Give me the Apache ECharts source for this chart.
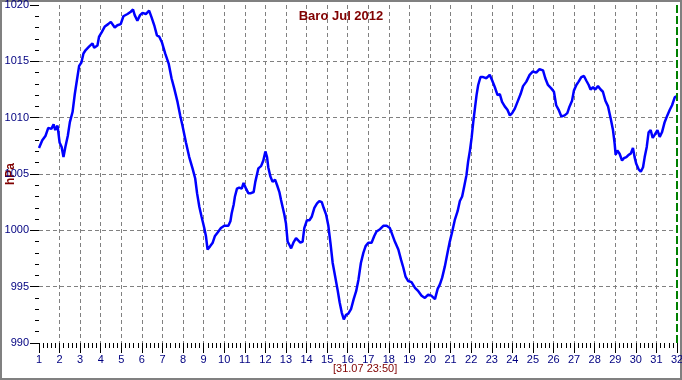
<!DOCTYPE html>
<html>
<head>
<meta charset="utf-8">
<script src="https://cdn.jsdelivr.net/npm/echarts@6/dist/echarts.min.js"></script>
<style>
html,body{margin:0;padding:0;background:#fff;}
#chart{width:682px;height:380px;}
</style>
</head>
<body>
<div id="chart"></div>
<script>
// time in days of July 2012 (1 = 1 Jul 00:00)
var days = [
1.00,1.16,1.32,1.45,1.60,1.71,1.79,1.90,2.00,2.10,2.19,2.28,2.40,2.50,2.63,2.74,2.84,2.95,
3.06,3.16,3.27,3.43,3.60,3.68,3.84,3.92,4.05,4.20,4.36,4.49,4.68,4.81,4.97,
5.10,5.30,5.46,5.57,5.65,5.78,5.91,6.03,6.19,6.35,6.47,6.60,6.73,6.84,6.97,
7.13,7.30,7.44,7.57,7.73,7.86,7.97,8.14,8.30,8.46,8.59,8.68,8.79,8.90,
9.03,9.11,9.19,9.32,9.44,9.55,9.68,9.84,10.00,10.20,10.30,10.36,10.46,10.52,10.62,10.73,10.85,10.94,
11.06,11.17,11.30,11.43,11.51,11.66,11.79,11.90,12.00,12.08,12.14,12.24,12.35,12.47,12.57,12.68,12.76,12.84,12.92,
13.00,13.08,13.17,13.25,13.36,13.49,13.57,13.70,13.81,13.89,14.02,14.14,14.25,14.38,14.51,14.62,14.74,14.83,14.95,
15.06,15.16,15.27,15.39,15.52,15.61,15.71,15.81,15.92,16.03,16.16,16.29,16.41,16.52,16.64,16.76,16.87,
17.00,17.16,17.29,17.40,17.57,17.73,17.89,18.05,18.17,18.29,18.46,18.59,18.70,18.81,18.94,
19.10,19.27,19.43,19.59,19.75,19.91,20.06,20.24,20.37,20.48,20.59,20.72,20.85,20.96,
21.08,21.20,21.34,21.45,21.56,21.66,21.77,21.85,21.94,22.02,22.10,22.18,22.26,22.34,22.45,22.58,22.74,22.90,
23.02,23.15,23.28,23.39,23.50,23.63,23.76,23.88,23.99,24.12,24.25,24.40,24.52,24.68,24.84,
25.00,25.16,25.32,25.49,25.60,25.73,25.89,26.02,26.13,26.25,26.38,26.54,26.67,26.78,26.90,26.99,
27.11,27.22,27.35,27.48,27.59,27.71,27.80,27.92,28.03,28.16,28.29,28.40,28.52,28.65,28.78,28.89,28.97,
29.02,29.10,29.21,29.33,29.42,29.54,29.65,29.75,29.86,29.94,30.02,30.14,30.24,30.35,30.43,30.53,30.62,30.72,30.82,30.92,
31.05,31.16,31.27,31.40,31.53,31.65,31.76,31.89,31.97
];
// pressure, hPa
var hpa = [
1007.3,1008.0,1008.4,1009.1,1009.0,1009.4,1008.9,1009.3,1007.8,1007.4,1006.5,1007.4,1008.4,1009.6,1010.5,1012.1,1013.3,1014.6,
1014.9,1015.7,1016.0,1016.3,1016.6,1016.2,1016.4,1017.2,1017.6,1018.1,1018.3,1018.5,1018.0,1018.2,1018.3,
1019.0,1019.2,1019.4,1019.6,1019.1,1018.6,1019.1,1019.3,1019.2,1019.5,1018.9,1018.2,1017.3,1017.2,1016.7,
1015.7,1014.8,1013.5,1012.6,1011.4,1010.2,1009.3,1007.8,1006.5,1005.5,1004.6,1003.3,1002.1,1001.2,
1000.2,999.5,998.3,998.6,998.9,999.5,999.8,1000.2,1000.4,1000.4,1000.8,1001.5,1002.3,1003.0,1003.7,1003.8,1003.7,1004.2,
1003.7,1003.3,1003.3,1003.4,1004.3,1005.5,1005.7,1006.2,1007.0,1006.5,1005.6,1004.8,1004.3,1004.5,1004.0,1003.4,1002.7,1002.6,1001.4,
1000.6,999.0,998.7,998.4,998.9,999.3,999.4,998.9,999.0,1000.2,1000.9,1000.9,1001.2,1002.0,1002.4,1002.6,1002.5,1002.0,1001.4,
1000.4,998.9,997.1,995.9,994.6,993.6,992.7,992.1,992.5,992.6,993.0,993.9,994.6,995.6,997.1,998.0,998.6,
998.9,998.9,999.5,999.9,1000.1,1000.4,1000.4,1000.2,999.6,999.0,998.3,997.4,996.7,995.9,995.5,
995.4,994.9,994.6,994.2,994.0,994.3,994.2,993.9,994.8,995.2,995.8,996.8,998.0,999.0,
999.9,1000.9,1001.7,1002.6,1003.0,1003.9,1004.9,1006.1,1007.1,1008.2,1009.6,1010.8,1012.0,1012.9,1013.6,1013.6,1013.5,1013.8,
1013.3,1012.7,1012.0,1012.1,1011.4,1011.0,1010.7,1010.2,1010.4,1010.8,1011.4,1012.1,1012.8,1013.2,1013.8,
1014.1,1014.0,1014.3,1014.2,1013.5,1012.9,1012.6,1012.3,1011.1,1010.7,1010.1,1010.2,1010.4,1011.0,1011.5,1012.4,
1012.9,1013.2,1013.6,1013.7,1013.3,1012.9,1012.5,1012.7,1012.5,1012.8,1012.5,1012.3,1011.5,1011.0,1009.9,1008.9,1007.7,
1006.7,1007.1,1006.8,1006.2,1006.4,1006.5,1006.7,1006.8,1007.3,1006.5,1005.9,1005.4,1005.2,1005.6,1006.5,1007.4,1008.7,1008.9,1008.2,1008.5,
1008.9,1008.3,1008.7,1009.6,1010.2,1010.7,1011.1,1011.8,1011.9
];
var titleText = 'Baro Jul 2012';
var yName = 'hPa';
var stampText = '[31.07 23:50]';
var xMin = 1, xMax = 32, xStep = 1;
var yMin = 990, yMax = 1020, yStep = 5;
var nowMark = 32;

var seriesData = days.map(function (d, i) { return [d, hpa[i]]; });

var labelFont = 'Liberation Sans Narrow, Liberation Sans, Arial, sans-serif';
var chart = echarts.init(document.getElementById('chart'), null, {renderer: 'canvas'});
chart.setOption({
  animation: false,
  backgroundColor: '#ffffff',
  title: {
    text: titleText,
    left: 'center',
    top: 5,
    textStyle: {color: '#800000', fontSize: 13, fontWeight: 'bold', fontFamily: 'Liberation Sans, Arial, sans-serif'}
  },
  grid: {left: 39, right: 5, top: 5, bottom: 37, containLabel: false, outerBoundsMode: 'none'},
  xAxis: {
    type: 'value', min: xMin, max: xMax, interval: xStep,
    axisLine: {show: false},
    axisTick: {show: true, length: 10, lineStyle: {color: '#000000', width: 1}},
    minorTick: {show: true, splitNumber: 5, length: 5, lineStyle: {color: '#000000', width: 1}},
    splitLine: {show: true, showMinLine: false, showMaxLine: false, lineStyle: {color: '#808080', type: [4, 3], width: 1}},
    axisLabel: {color: '#000080', fontSize: 11, margin: 11, showMinLabel: true, showMaxLabel: true, fontFamily: labelFont,
      formatter: function (v) { return String(v); }}
  },
  yAxis: {
    type: 'value', min: yMin, max: yMax, interval: yStep,
    axisLine: {show: false},
    axisTick: {show: true, length: 9, lineStyle: {color: '#000000', width: 1}},
    minorTick: {show: true, splitNumber: 5, length: 4, lineStyle: {color: '#000000', width: 1}},
    splitLine: {show: true, showMinLine: false, showMaxLine: false, lineStyle: {color: '#808080', type: [4, 3], width: 1}},
    axisLabel: {color: '#000080', fontSize: 11, margin: 10, showMinLabel: true, showMaxLabel: true, fontFamily: labelFont,
      formatter: function (v) { return String(v); }}
  },
  series: [{
    type: 'line',
    data: seriesData,
    showSymbol: false,
    symbol: 'none',
    smooth: false,
    lineStyle: {color: '#0000ff', width: 2.5},
    markLine: {
      silent: true,
      symbol: ['none', 'none'],
      label: {show: false},
      lineStyle: {color: '#008000', type: [8, 3], width: 2},
      data: [{xAxis: nowMark}]
    }
  }],
  graphic: [
    {
      type: 'text', x: 11, y: 174, rotation: Math.PI / 2,
      style: {text: yName, fill: '#800000', fontSize: 12, fontWeight: 'bold',
        fontFamily: 'Liberation Sans, Arial, sans-serif', align: 'center', verticalAlign: 'middle'}
    },
    {
      type: 'text', left: 333, top: 363,
      style: {text: stampText, fill: '#800000', fontSize: 11, fontFamily: 'Liberation Sans, Arial, sans-serif'}
    },
    {
      type: 'rect', shape: {x: 1, y: 1, width: 680, height: 378},
      style: {fill: 'none', stroke: '#808080', lineWidth: 2}
    }
  ]
});
</script>
</body>
</html>
